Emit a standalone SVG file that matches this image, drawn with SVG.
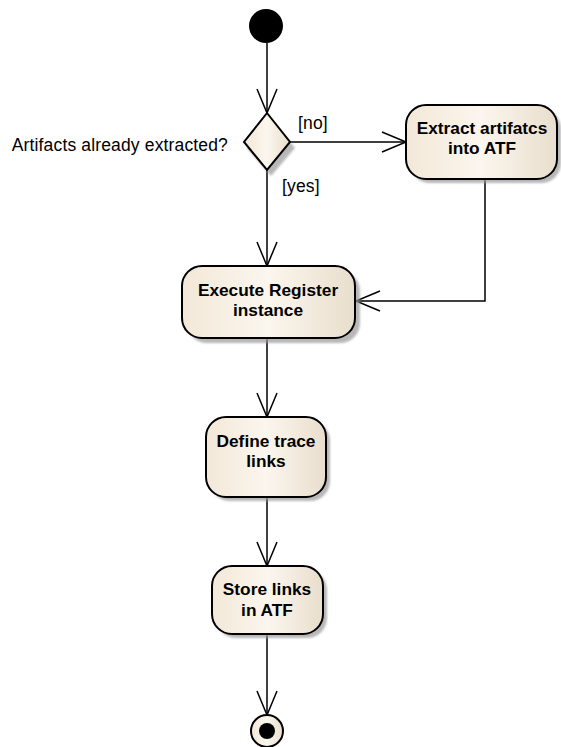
<svg xmlns="http://www.w3.org/2000/svg" width="561" height="747" viewBox="0 0 561 747">
  <style>
    .node { stroke: #000; stroke-width: 2; fill: url(#beige); }
    .shadow { fill: #9a9a9a; opacity: 0.7; filter: url(#blur); }
    .label { font-family: "Liberation Sans", Arial, sans-serif; font-size: 17.5px; letter-spacing: 0.15px; fill: #000; }
    .title { font-family: "Liberation Sans", Arial, sans-serif; font-size: 17.3px; font-weight: bold; fill: #000; text-anchor: middle; }
    .edge { stroke: #000; stroke-width: 1.5; fill: none; marker-end: url(#arrow); }
  </style>
  <defs>
    <linearGradient id="beige" x1="0" y1="0" x2="1" y2="0">
      <stop offset="0" stop-color="#F3E8D8"/>
      <stop offset="0.5" stop-color="#FBF6EE"/>
      <stop offset="1" stop-color="#E9DECD"/>
    </linearGradient>
    <filter id="blur" x="-10%" y="-10%" width="120%" height="120%">
      <feGaussianBlur stdDeviation="1.2"/>
    </filter>
    <marker id="arrow" markerUnits="userSpaceOnUse" viewBox="0 0 27 22" refX="25" refY="11" markerWidth="27" markerHeight="22" orient="auto">
      <path d="M1,1 L25,11 L1,21" fill="none" stroke="#000" stroke-width="1.5"/>
    </marker>
  </defs>

  <g id="connectors">
    <line class="edge" x1="267" y1="43" x2="267" y2="113"/>
    <line class="edge" x1="290" y1="142" x2="406" y2="142"/>
    <line class="edge" x1="267" y1="170" x2="267" y2="266"/>
    <polyline class="edge" points="485,179 485,301 356,301"/>
    <line class="edge" x1="267" y1="338" x2="267" y2="417"/>
    <line class="edge" x1="267" y1="497" x2="267" y2="566"/>
    <line class="edge" x1="267" y1="634" x2="267" y2="715"/>
    <text class="label" x="298" y="129">[no]</text>
    <text class="label" x="282" y="192">[yes]</text>
  </g>

  <g id="start">
    <circle cx="266" cy="26" r="17" fill="#000"/>
  </g>

  <g id="decision">
    <polygon class="shadow" points="271,119 295,148 271,176 247,148"/>
    <polygon points="267,113 290,142 267,170 244,142" fill="url(#beige)" stroke="#000" stroke-width="2"/>
    <text class="label" x="228" y="151" text-anchor="end">Artifacts already extracted?</text>
  </g>

  <g id="extract">
    <rect class="shadow" x="410" y="109" width="151" height="74" rx="20"/>
    <rect class="node" x="406" y="105" width="151" height="74" rx="20"/>
    <text class="title" x="482" y="134">Extract artifatcs</text>
    <text class="title" x="482" y="154">into ATF</text>
  </g>

  <g id="execute">
    <rect class="shadow" x="187" y="271" width="173" height="72" rx="20"/>
    <rect class="node" x="182" y="266" width="173" height="72" rx="20"/>
    <text class="title" x="268" y="296">Execute Register</text>
    <text class="title" x="268" y="316">instance</text>
  </g>

  <g id="define">
    <rect class="shadow" x="210" y="421" width="120" height="80" rx="20"/>
    <rect class="node" x="206" y="417" width="120" height="80" rx="20"/>
    <text class="title" x="266" y="447">Define trace</text>
    <text class="title" x="266" y="467">links</text>
  </g>

  <g id="store">
    <rect class="shadow" x="216" y="570" width="111" height="68" rx="20"/>
    <rect class="node" x="212" y="566" width="111" height="68" rx="20"/>
    <text class="title" x="267" y="595">Store links</text>
    <text class="title" x="267" y="616">in ATF</text>
  </g>

  <g id="final">
    <circle cx="267" cy="731" r="16" fill="url(#beige)" stroke="#000" stroke-width="2"/>
    <circle cx="267" cy="731" r="8" fill="#000"/>
  </g>
</svg>
